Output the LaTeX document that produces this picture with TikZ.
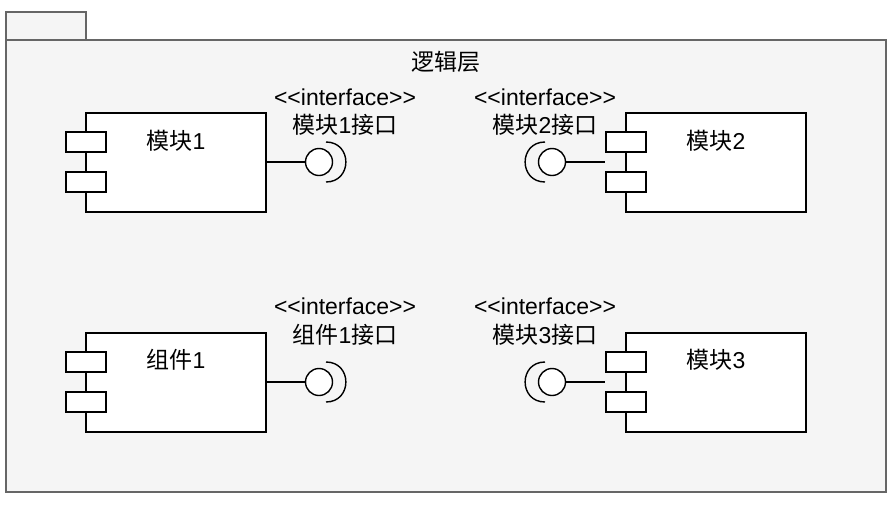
\documentclass[tikz,border=0pt]{standalone}
\usepackage{fontspec}
\setmainfont{Liberation Sans}[Ligatures=TeXOff]
\newfontfamily\cjk{Noto Sans CJK SC}
\definecolor{pkgline}{HTML}{666666}
\definecolor{pkgfill}{HTML}{F5F5F5}
\begin{document}
\begin{tikzpicture}[x=1pt,y=-1pt,
  pkg/.style={draw=pkgline, fill=pkgfill, line width=1.7pt},
  comp/.style={draw=black, fill=white, line width=1.8pt, minimum width=180pt, minimum height=99pt, inner sep=0pt},
  port/.style={draw=black, fill=white, line width=1.8pt, minimum width=40pt, minimum height=20pt, inner sep=0pt},
  ball/.style={circle, draw=black, fill=white, line width=1.4pt, minimum size=27pt, inner sep=0pt},
  sock/.style={draw=black, line width=1.4pt},
  conn/.style={draw=black, line width=1.4pt},
  txt/.style={font=\fontsize{23}{28}\selectfont, inner sep=0pt, anchor=base}]
\useasboundingbox (0,0) rectangle (894,504);
% package
\path[pkg] (6,12) rectangle (86,40);
\path[pkg] (6,40) rectangle (886,492);
\node[txt] (title) at (446,70) {\cjk 逻辑层};

% component 1 (top-left)
\node[comp] (m1) at (176,162.5) {};
\node[port] (m1p1) at (86,142) {};
\node[port] (m1p2) at (86,182) {};
\node[txt] (m1t) at (176,149) {{\cjk 模块}1};
\node[ball] (b1) at (319,162) {};
\draw[conn] (m1.east |- b1) -- (b1.west);
\draw[sock] (326,142) .. controls (352.5,142) and (352.5,182) .. (326,182);
\node[txt] (s1) at (345,105) {<<interface>>};
\node[txt] (n1) at (345,133) {{\cjk 模块}1{\cjk 接口}};

% component 2 (top-right)
\node[comp] (m2) at (716,162.5) {};
\node[port] (m2p1) at (626,142) {};
\node[port] (m2p2) at (626,182) {};
\node[txt] (m2t) at (716,149) {{\cjk 模块}2};
\node[ball] (b2) at (552,162) {};
\draw[conn] (b2.east) -- (m2p1.west |- b2);
\draw[sock] (545,142) .. controls (518.5,142) and (518.5,182) .. (545,182);
\node[txt] (s2) at (545,105) {<<interface>>};
\node[txt] (n2) at (545,133) {{\cjk 模块}2{\cjk 接口}};

% component 3 (bottom-left)
\node[comp] (c1) at (176,382.5) {};
\node[port] (c1p1) at (86,362) {};
\node[port] (c1p2) at (86,402) {};
\node[txt] (c1t) at (176,368) {{\cjk 组件}1};
\node[ball] (b3) at (319,382) {};
\draw[conn] (c1.east |- b3) -- (b3.west);
\draw[sock] (326,362) .. controls (352.5,362) and (352.5,402) .. (326,402);
\node[txt] (s3) at (345,314) {<<interface>>};
\node[txt] (n3) at (345,343) {{\cjk 组件}1{\cjk 接口}};

% component 4 (bottom-right)
\node[comp] (m3) at (716,382.5) {};
\node[port] (m3p1) at (626,362) {};
\node[port] (m3p2) at (626,402) {};
\node[txt] (m3t) at (716,368) {{\cjk 模块}3};
\node[ball] (b4) at (552,382) {};
\draw[conn] (b4.east) -- (m3p1.west |- b4);
\draw[sock] (545,362) .. controls (518.5,362) and (518.5,402) .. (545,402);
\node[txt] (s4) at (545,314) {<<interface>>};
\node[txt] (n4) at (545,343) {{\cjk 模块}3{\cjk 接口}};
\end{tikzpicture}
\end{document}
